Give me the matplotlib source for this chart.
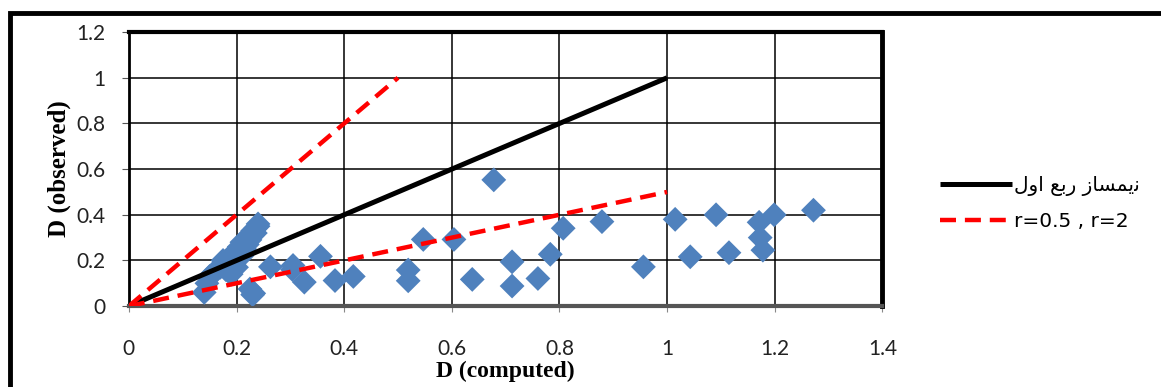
import numpy as np
import matplotlib
matplotlib.use('Agg')
import matplotlib.pyplot as plt
from matplotlib.patches import Rectangle

# observed vs computed D values
d_computed = [0.14, 0.145, 0.15, 0.155, 0.16, 0.17, 0.175, 0.18, 0.18, 0.185,
              0.19, 0.19, 0.195, 0.20, 0.20, 0.205, 0.21, 0.21, 0.215, 0.22,
              0.22, 0.225, 0.23, 0.23, 0.235, 0.24, 0.24, 0.225, 0.23, 0.235,
              0.20, 0.19, 0.232, 0.263, 0.305, 0.304, 0.356, 0.326, 0.383, 0.417,
              0.519, 0.519, 0.547, 0.604, 0.638, 0.678, 0.712, 0.712, 0.760, 0.783,
              0.807, 0.879, 0.956, 1.015, 1.043, 1.091, 1.115, 1.171, 1.173, 1.178,
              1.199, 1.272]
d_observed = [0.06, 0.10, 0.13, 0.14, 0.15, 0.17, 0.20, 0.19, 0.16, 0.21,
              0.22, 0.18, 0.20, 0.17, 0.24, 0.26, 0.28, 0.22, 0.25, 0.27,
              0.30, 0.29, 0.31, 0.33, 0.32, 0.35, 0.36, 0.075, 0.05, 0.34,
              0.23, 0.14, 0.056, 0.172, 0.178, 0.16, 0.218, 0.105, 0.112, 0.13,
              0.158, 0.111, 0.292, 0.292, 0.117, 0.553, 0.194, 0.088, 0.121, 0.227,
              0.341, 0.37, 0.172, 0.38, 0.216, 0.40, 0.234, 0.367, 0.30, 0.245,
              0.40, 0.42]

# reference lines
bisector_x = [0, 1]
bisector_y = [0, 1]
r2_x = [0, 0.5]
r2_y = [0, 1]
r05_x = [0, 1]
r05_y = [0, 0.5]

# legend label (Persian, written in presentation forms in visual order)
label_logical = ['\ufee7', '\ufbfe', '\ufee4', '\ufeb4', '\ufe8e', '\ufeaf', ' ',
                 '\ufead', '\ufe91', '\ufeca', ' ', '\ufe8d', '\ufeed', '\ufedd']
bisector_label = ''.join(reversed(label_logical))
ratio_label = 'r=0.5 , r=2'

fig = plt.figure(figsize=(11.61, 3.87), dpi=100)
ax = fig.add_axes([0.111, 0.209, 0.649, 0.708])

ax.scatter(d_computed, d_observed, marker='D', s=160, color='#4F81BD',
           edgecolors='none', zorder=3)
ax.plot(bisector_x, bisector_y, color='black', lw=3.6, zorder=4,
        label=bisector_label, solid_capstyle='butt')
ax.plot(r2_x, r2_y, color='red', lw=3.2, ls=(0, (3.6, 2)), zorder=4,
        label=ratio_label)
ax.plot(r05_x, r05_y, color='red', lw=3.2, ls=(0, (3.6, 2)), zorder=4)

ax.set_xlim(0, 1.4)
ax.set_ylim(0, 1.2)
ax.set_xticks(np.arange(0, 1.41, 0.2))
ax.set_yticks(np.arange(0, 1.21, 0.2))
ax.set_xticklabels(['0', '0.2', '0.4', '0.6', '0.8', '1', '1.2', '1.4'])
ax.set_yticklabels(['0', '0.2', '0.4', '0.6', '0.8', '1', '1.2'])
ax.grid(True, color='black', lw=1.1)
ax.set_axisbelow(True)

for lbl in ax.get_xticklabels() + ax.get_yticklabels():
    lbl.set_fontfamily('Lato')
    lbl.set_fontsize(15)
    lbl.set_color('#222222')
ax.tick_params(axis='y', direction='out', length=5, pad=12, color='#555555')
ax.tick_params(axis='x', direction='out', length=4, pad=20, color='#888888')

ax.spines['top'].set_linewidth(3)
ax.spines['right'].set_linewidth(3.5)
ax.spines['left'].set_linewidth(2)
ax.spines['bottom'].set_linewidth(3)
ax.spines['bottom'].set_color('#555555')

ax.set_xlabel('D (computed)', family='Liberation Serif', fontweight='bold',
              fontsize=17, labelpad=1)
ax.set_ylabel('D (observed)', family='Liberation Serif', fontweight='bold',
              fontsize=18, labelpad=4)

leg = ax.legend(loc='center left', bbox_to_anchor=(1.052, 0.374), frameon=False,
                handlelength=3.6, handletextpad=0.1, labelspacing=0.8,
                prop={'family': ['DejaVu Sans'], 'size': 14.5})

# outer chart frame
fig.add_artist(Rectangle((0.009, -1), 2, 1.966, transform=fig.transFigure,
                         fill=False, lw=3.5, ec='black', clip_on=False))

fig.savefig('out.png', dpi=100)
